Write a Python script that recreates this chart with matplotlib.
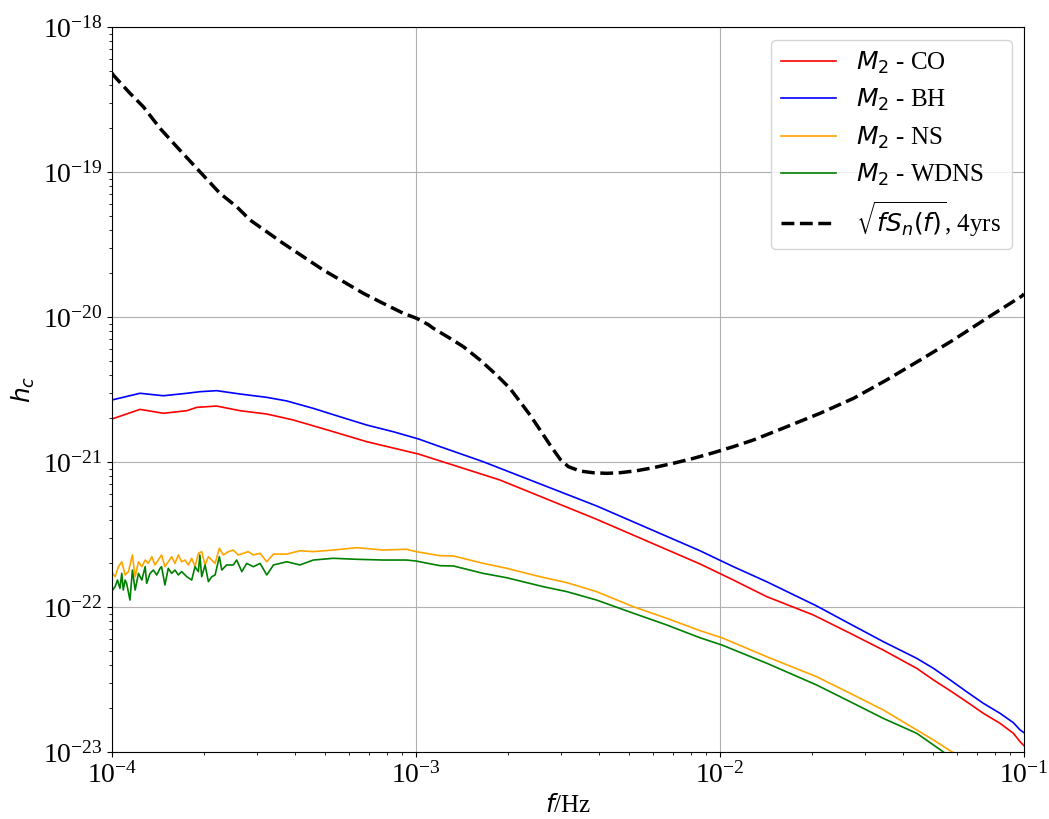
import numpy as np
import matplotlib
matplotlib.use("Agg")
import matplotlib.pyplot as plt

plt.rcParams['font.family'] = ['Liberation Serif', 'DejaVu Serif']
plt.rcParams['mathtext.fontset'] = 'dejavusans'

# values, stored as log10(f) and log10(h_c)
noise_logf = [-4.0, -3.996, -3.941, -3.897, -3.842, -3.787, -3.711, -3.645, -3.590, -3.546,
              -3.491, -3.437, -3.371, -3.305, -3.239, -3.173, -3.108, -3.042, -2.998, -2.960,
              -2.943, -2.888, -2.844, -2.789, -2.735, -2.691, -2.658, -2.625, -2.592, -2.559,
              -2.526, -2.499, -2.461, -2.417, -2.373, -2.329, -2.274, -2.219, -2.154, -2.088,
              -2.022, -1.956, -1.890, -1.781, -1.671, -1.561, -1.452, -1.342, -1.233, -1.123,
              -1.007, -1.0]
noise_logh = [-18.317, -18.331, -18.457, -18.550, -18.699, -18.826, -18.998, -19.147, -19.239, -19.331,
              -19.412, -19.492, -19.584, -19.676, -19.756, -19.837, -19.906, -19.974, -20.009, -20.052,
              -20.078, -20.147, -20.205, -20.297, -20.400, -20.492, -20.584, -20.676, -20.779, -20.883,
              -20.981, -21.032, -21.062, -21.074, -21.078, -21.074, -21.060, -21.039, -21.009, -20.975,
              -20.936, -20.894, -20.848, -20.757, -20.664, -20.561, -20.434, -20.297, -20.159, -20.009,
              -19.855, -19.841]

bh_logf = [-4.0, -3.908, -3.831, -3.754, -3.711, -3.656, -3.579, -3.491, -3.425, -3.338,
           -3.25, -3.162, -3.075, -2.992, -2.921, -2.779, -2.406, -2.066, -1.956, -1.846,
           -1.682, -1.572, -1.463, -1.353, -1.298, -1.243, -1.189, -1.134, -1.079, -1.035,
           -1.013, -0.997]
bh_logh = [-20.572, -20.526, -20.543, -20.526, -20.515, -20.508, -20.531, -20.554, -20.579, -20.630,
           -20.688, -20.745, -20.791, -20.841, -20.894, -20.998, -21.303, -21.612, -21.722, -21.826,
           -21.993, -22.117, -22.239, -22.354, -22.423, -22.503, -22.584, -22.664, -22.733, -22.798,
           -22.848, -22.871]

co_logf = [-4.0, -3.908, -3.831, -3.754, -3.721, -3.656, -3.579, -3.491, -3.404, -3.272,
           -3.162, -2.992, -2.724, -2.406, -2.066, -1.956, -1.846, -1.693, -1.572, -1.463,
           -1.353, -1.298, -1.243, -1.189, -1.134, -1.079, -1.035, -1.013, -0.997]
co_logh = [-20.703, -20.637, -20.664, -20.646, -20.623, -20.614, -20.646, -20.669, -20.710, -20.791,
           -20.860, -20.945, -21.124, -21.395, -21.703, -21.814, -21.929, -22.055, -22.181, -22.297,
           -22.423, -22.503, -22.577, -22.653, -22.733, -22.802, -22.871, -22.929, -22.963]

ns_logf = [-3.998, -3.990, -3.979, -3.968, -3.957, -3.946, -3.933, -3.924, -3.913, -3.902,
           -3.891, -3.881, -3.869, -3.859, -3.848, -3.837, -3.826, -3.815, -3.804, -3.793,
           -3.782, -3.771, -3.760, -3.749, -3.738, -3.727, -3.716, -3.705, -3.694, -3.683,
           -3.672, -3.661, -3.647, -3.634, -3.617, -3.601, -3.585, -3.568, -3.552, -3.535,
           -3.513, -3.491, -3.469, -3.425, -3.382, -3.338, -3.272, -3.195, -3.108, -3.031,
           -3.0, -2.921, -2.877, -2.779, -2.702, -2.592, -2.504, -2.406, -2.285, -2.175,
           -2.066, -1.994, -1.846, -1.682, -1.572, -1.463, -1.353, -1.298, -1.238, -1.2]
ns_logh = [-21.768, -21.791, -21.722, -21.688, -21.779, -21.756, -21.641, -21.791, -21.688, -21.722,
           -21.676, -21.699, -21.653, -21.710, -21.676, -21.641, -21.722, -21.688, -21.653, -21.699,
           -21.641, -21.688, -21.676, -21.710, -21.664, -21.722, -21.630, -21.618, -21.710, -21.653,
           -21.676, -21.699, -21.595, -21.641, -21.618, -21.607, -21.641, -21.630, -21.618, -21.641,
           -21.630, -21.688, -21.635, -21.635, -21.612, -21.618, -21.607, -21.591, -21.607, -21.602,
           -21.618, -21.646, -21.648, -21.699, -21.733, -21.791, -21.832, -21.894, -21.998, -22.078,
           -22.163, -22.212, -22.343, -22.481, -22.595, -22.710, -22.848, -22.917, -22.998, -23.04]

wdns_logf = [-3.998, -3.990, -3.982, -3.974, -3.968, -3.963, -3.957, -3.952, -3.941, -3.933,
             -3.924, -3.913, -3.902, -3.891, -3.886, -3.875, -3.864, -3.853, -3.842, -3.837,
             -3.826, -3.815, -3.804, -3.793, -3.782, -3.771, -3.754, -3.738, -3.727, -3.716,
             -3.711, -3.705, -3.694, -3.683, -3.672, -3.661, -3.647, -3.639, -3.623, -3.601,
             -3.590, -3.573, -3.557, -3.535, -3.513, -3.491, -3.469, -3.425, -3.382, -3.338,
             -3.272, -3.195, -3.108, -3.031, -3.0, -2.921, -2.877, -2.779, -2.702, -2.581,
             -2.504, -2.406, -2.285, -2.175, -2.066, -1.994, -1.846, -1.682, -1.572, -1.463,
             -1.353, -1.271, -1.24]
wdns_logh = [-21.883, -21.860, -21.814, -21.871, -21.768, -21.883, -21.814, -21.837, -21.952, -21.745,
             -21.883, -21.768, -21.814, -21.722, -21.837, -21.768, -21.745, -21.779, -21.733, -21.722,
             -21.848, -21.733, -21.768, -21.745, -21.779, -21.756, -21.791, -21.814, -21.722, -21.756,
             -21.641, -21.791, -21.710, -21.825, -21.791, -21.779, -21.653, -21.745, -21.710, -21.710,
             -21.676, -21.756, -21.699, -21.722, -21.699, -21.779, -21.710, -21.688, -21.710, -21.676,
             -21.664, -21.671, -21.676, -21.676, -21.683, -21.715, -21.717, -21.768, -21.798, -21.860,
             -21.894, -21.952, -22.043, -22.124, -22.212, -22.262, -22.388, -22.538, -22.653, -22.768,
             -22.871, -22.991, -23.04]

fig, ax = plt.subplots(figsize=(10.49, 8.19), dpi=100)
fig.subplots_adjust(left=0.1068, right=0.9762, top=0.967, bottom=0.0818)

ax.plot(10**np.array(co_logf), 10**np.array(co_logh), color='red', lw=1.2, label=r'$M_2$ - CO')
ax.plot(10**np.array(bh_logf), 10**np.array(bh_logh), color='blue', lw=1.2, label=r'$M_2$ - BH')
ax.plot(10**np.array(ns_logf), 10**np.array(ns_logh), color='orange', lw=1.2, label=r'$M_2$ - NS')
ax.plot(10**np.array(wdns_logf), 10**np.array(wdns_logh), color='green', lw=1.2, label=r'$M_2$ - WDNS')
ax.plot(10**np.array(noise_logf), 10**np.array(noise_logh), 'k--', lw=2.5,
        label=r'$\sqrt{fS_n(f)}$, 4yrs')

ax.set_xscale('log')
ax.set_yscale('log')
ax.set_xlim(1e-4, 1e-1)
ax.set_ylim(1e-23, 1e-18)
ax.grid(True, which='major')
ax.tick_params(labelsize=20)
ax.set_xlabel(r'$f$/Hz', fontsize=18)
ax.set_ylabel(r'$h_c$', fontsize=18)
ax.legend(loc='upper right', fontsize=18, labelspacing=0.45, handlelength=2.2)

plt.savefig('out.png', dpi=100)
